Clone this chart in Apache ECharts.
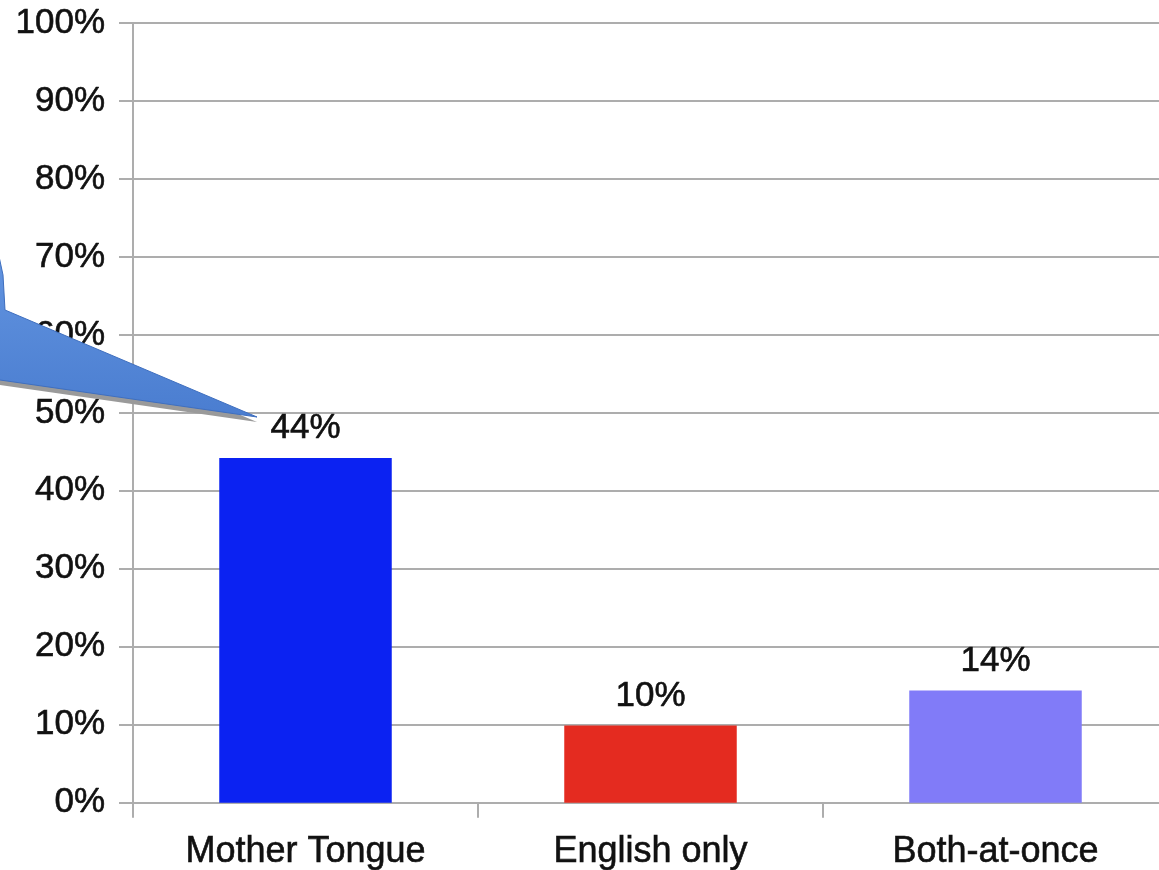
<!DOCTYPE html>
<html>
<head>
<meta charset="utf-8">
<script src="https://cdn.jsdelivr.net/npm/echarts@6/dist/echarts.min.js"></script>
<style>
  html, body { margin: 0; padding: 0; background: #fff; overflow: hidden; }
  /* the plot runs a little past the right edge of the picture */
  #chart { width: 1180px; height: 870px; }
</style>
</head>
<body>
<div id="chart"></div>
<script>
// data
const categories = ['Mother Tongue', 'English only', 'Both-at-once']
const shares = [44.2, 9.9, 14.4]
const barColors = ['#0b22f2', '#e42b20', '#817bf8']
const yTicks = [0, 10, 20, 30, 40, 50, 60, 70, 80, 90, 100]

const chart = echarts.init(document.getElementById('chart'))
const font = 'Liberation Sans'
const textColor = '#111'
const gridGray = '#adadad'
// a thin outline makes the glyphs a bit heavier, like the blurry original
const heavy = { textBorderColor: textColor, textBorderWidth: 0.6 }

// the blue callout shape, mostly off the left edge
const calloutPts = [[-200, 150], [-25, 170], [-3, 247], [3, 275], [5, 310], [257, 417], [0, 380], [-200, 380]]

const option = {
  backgroundColor: '#fff',
  animation: false,
  grid: { left: 133, top: 23, width: 1035, bottom: 67 },
  xAxis: {
    type: 'category',
    data: categories,
    axisLine: { lineStyle: { color: gridGray, width: 2 } },
    axisTick: { show: true, length: 15, lineStyle: { color: gridGray, width: 2 } },
    axisLabel: { fontFamily: font, fontSize: 36, color: textColor, margin: 31, ...heavy }
  },
  yAxis: {
    type: 'value',
    min: 0,
    max: 100,
    interval: 10,
    axisLine: { show: true, lineStyle: { color: gridGray, width: 2 } },
    axisTick: { show: true, length: 14, lineStyle: { color: gridGray, width: 2 } },
    splitLine: { lineStyle: { color: gridGray, width: 2 } },
    axisLabel: {
      fontFamily: font, fontSize: 35, color: textColor, margin: 28, ...heavy,
      formatter: (v) => (yTicks.includes(v) ? v + '%' : '')
    }
  },
  series: [{
    type: 'bar',
    barWidth: '50%',
    data: shares.map((v, i) => ({ value: v, itemStyle: { color: barColors[i] } })),
    label: {
      show: true,
      position: 'top',
      distance: 12,
      fontFamily: font,
      fontSize: 35,
      color: textColor,
      ...heavy,
      formatter: (p) => Math.round(p.value) + '%'
    }
  }],
  graphic: [
    {
      type: 'polygon',
      z: 100,
      shape: { points: calloutPts.map(p => [p[0], p[1] + 5]) },
      style: { fill: '#9a9a9a' }
    },
    {
      type: 'polygon',
      z: 101,
      shape: { points: calloutPts },
      style: {
        fill: new echarts.graphic.LinearGradient(0, 0, 0, 1, [
          { offset: 0, color: '#72a3ea' },
          { offset: 1, color: '#4a7dd0' }
        ]),
        stroke: '#3f6fbf',
        lineWidth: 1
      }
    }
  ]
}

chart.setOption(option)
</script>
</body>
</html>
